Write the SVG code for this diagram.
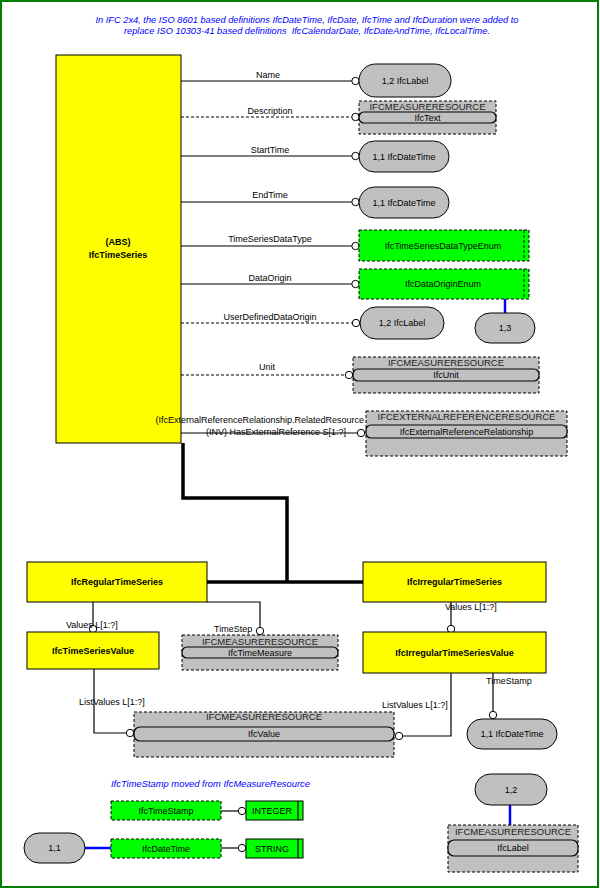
<svg xmlns="http://www.w3.org/2000/svg" width="600" height="888" viewBox="0 0 600 888">
<defs>
<style>
text{font-family:"Liberation Sans",Arial,sans-serif;font-size:9px;fill:#000}
.t{text-anchor:middle}
.b{font-weight:bold}
.hd{font-size:9.5px;text-anchor:middle;fill:#222}
.note{fill:#0000FF;font-style:italic}
.ent{fill:#FFFF00;stroke:#000;stroke-width:1}
.gry{fill:#C0C0C0;stroke:#000;stroke-width:1}
.grd{fill:#C0C0C0;stroke:#000;stroke-width:1;stroke-dasharray:3,2}
.inn{fill:#C0C0C0;stroke:#000;stroke-width:1.2}
.grn{fill:#00FF00;stroke:#000;stroke-width:1;stroke-dasharray:3,2}
.grs{fill:#00FF00;stroke:#000;stroke-width:1}
.ln{fill:none;stroke:#000;stroke-width:1.2}
.dl{fill:none;stroke:#000;stroke-width:1;stroke-dasharray:3,2}
.inh{fill:none;stroke:#000;stroke-width:3.5}
.bl{fill:none;stroke:#0000FF;stroke-width:2.5}
.c{fill:#fff;stroke:#000;stroke-width:1}
</style>
</defs>
<rect x="1" y="1" width="597" height="886" fill="#fff" stroke="#008000" stroke-width="2"/>
<g id="notes">
<text class="note t" x="307" y="23" textLength="423" lengthAdjust="spacingAndGlyphs">In IFC 2x4, the ISO 8601 based definitions IfcDateTime, IfcDate, IfcTime and IfcDuration were added to</text>
<text class="note t" x="307" y="34" textLength="366" lengthAdjust="spacingAndGlyphs" xml:space="preserve">replace ISO 10303-41 based definitions  IfcCalendarDate, IfcDateAndTime, IfcLocalTime.</text>
<text class="note" x="111" y="787" textLength="199" lengthAdjust="spacingAndGlyphs">IfcTimeStamp moved from IfcMeasureResource</text>
</g>
<g id="IfcTimeSeries">
<rect class="ent" x="56" y="55" width="125" height="388"/>
<text class="t b" x="118" y="244.5">(ABS)</text>
<text class="t b" x="118" y="257.5">IfcTimeSeries</text>
</g>
<g id="connectors">
<line class="ln" x1="181" y1="81" x2="352" y2="81"/>
<line class="dl" x1="181" y1="117" x2="352" y2="117"/>
<line class="ln" x1="181" y1="156" x2="352" y2="156"/>
<line class="ln" x1="181" y1="202" x2="352" y2="202"/>
<line class="ln" x1="181" y1="246" x2="352" y2="246"/>
<line class="ln" x1="181" y1="284" x2="352" y2="284"/>
<line class="dl" x1="181" y1="323" x2="352" y2="323"/>
<line class="dl" x1="181" y1="375" x2="345" y2="375"/>
<line class="ln" x1="181" y1="433" x2="357" y2="433"/>
<circle class="c" cx="355.5" cy="81" r="3.7"/>
<circle class="c" cx="355.5" cy="117" r="3.7"/>
<circle class="c" cx="355.5" cy="156" r="3.7"/>
<circle class="c" cx="355.5" cy="202" r="3.7"/>
<circle class="c" cx="355.5" cy="246" r="3.7"/>
<circle class="c" cx="355.5" cy="284" r="3.7"/>
<circle class="c" cx="356" cy="323" r="3.7"/>
<circle class="c" cx="349" cy="375" r="3.7"/>
<circle class="c" cx="361" cy="433" r="3.7"/>
<text class="t" x="268" y="78">Name</text>
<text class="t" x="270" y="114">Description</text>
<text class="t" x="270" y="153">StartTime</text>
<text class="t" x="270" y="198">EndTime</text>
<text class="t" x="270" y="242">TimeSeriesDataType</text>
<text class="t" x="270" y="281">DataOrigin</text>
<text class="t" x="270" y="320">UserDefinedDataOrigin</text>
<text class="t" x="267" y="370">Unit</text>
<text x="364" y="423" text-anchor="end">(IfcExternalReferenceRelationship.RelatedResource</text>
<text x="346" y="435" text-anchor="end">(INV) HasExternalReference S[1:?]</text>
<line class="bl" x1="505" y1="299" x2="505" y2="313"/>
<path class="inh" d="M183,443 V498 H287 V582"/>
<line class="inh" x1="207" y1="582" x2="363" y2="582"/>
<line class="ln" x1="93" y1="602" x2="93" y2="625.3"/>
<circle class="c" cx="93" cy="629" r="3.7"/>
<text x="66" y="628">Values L[1:?]</text>
<path class="ln" d="M207,602 H260 V627.3"/>
<circle class="c" cx="260" cy="631" r="3.7"/>
<text x="214" y="632">TimeStep</text>
<line class="ln" x1="451" y1="602" x2="451" y2="625.3"/>
<circle class="c" cx="451" cy="629" r="3.7"/>
<text x="445" y="610">Values L[1:?]</text>
<path class="ln" d="M451,673 V736 H402.7"/>
<circle class="c" cx="399" cy="736" r="3.7"/>
<text x="382" y="708">ListValues L[1:?]</text>
<line class="ln" x1="493" y1="673" x2="493" y2="711.3"/>
<circle class="c" cx="493" cy="715" r="3.7"/>
<text x="486" y="684">TimeStamp</text>
<path class="ln" d="M94,669 V733 H126.3"/>
<circle class="c" cx="130" cy="733" r="3.7"/>
<text x="79" y="705">ListValues L[1:?]</text>
<line class="ln" x1="221" y1="811" x2="238.3" y2="811"/>
<circle class="c" cx="242" cy="811" r="3.7"/>
<line class="ln" x1="221" y1="848" x2="238.3" y2="848"/>
<circle class="c" cx="242" cy="848" r="3.7"/>
<line class="bl" x1="85" y1="848" x2="111" y2="848" stroke-width="3"/>
<line class="bl" x1="510" y1="805" x2="510" y2="825"/>
</g>
<g id="Name_IfcLabel">
<rect class="gry" x="359" y="64" width="92" height="33" rx="16.5"/>
<text class="t" x="405" y="84">1,2 IfcLabel</text>
</g>
<g id="IfcText">
<rect class="grd" x="359" y="101" width="137" height="33"/>
<text class="hd" x="427.5" y="110.3">IFCMEASURERESOURCE</text>
<rect class="inn" x="359" y="112" width="137" height="11" rx="5"/>
<text class="t" x="427.5" y="121">IfcText</text>
</g>
<g id="StartTime_IfcDateTime">
<rect class="gry" x="359" y="141" width="90" height="31" rx="15.5"/>
<text class="t" x="404" y="159.5">1,1 IfcDateTime</text>
</g>
<g id="EndTime_IfcDateTime">
<rect class="gry" x="359" y="187" width="90" height="31" rx="15.5"/>
<text class="t" x="404" y="205.5">1,1 IfcDateTime</text>
</g>
<g id="IfcTimeSeriesDataTypeEnum">
<rect class="grn" x="359" y="230" width="170" height="31"/>
<line class="dl" x1="524" y1="230" x2="524" y2="261"/>
<text class="t" x="443" y="249.3">IfcTimeSeriesDataTypeEnum</text>
</g>
<g id="IfcDataOriginEnum">
<rect class="grn" x="359" y="269" width="170" height="30"/>
<line class="dl" x1="524" y1="269" x2="524" y2="299"/>
<text class="t" x="443" y="287.3">IfcDataOriginEnum</text>
</g>
<g id="Card_1_3">
<rect class="gry" x="475" y="313" width="60" height="30" rx="15"/>
<text class="t" x="505" y="331">1,3</text>
</g>
<g id="UserDefinedDataOrigin_IfcLabel">
<rect class="gry" x="360" y="307" width="84" height="32" rx="16"/>
<text class="t" x="402" y="326">1,2 IfcLabel</text>
</g>
<g id="IfcUnit">
<rect class="grd" x="353" y="357" width="186" height="36"/>
<text class="hd" x="446" y="366.3">IFCMEASURERESOURCE</text>
<rect class="inn" x="353" y="369" width="186" height="12" rx="5"/>
<text class="t" x="446" y="378.3">IfcUnit</text>
</g>
<g id="IfcExternalReferenceRelationship">
<rect class="grd" x="366" y="411" width="201" height="45"/>
<text class="hd" x="466.5" y="420.3">IFCEXTERNALREFERENCERESOURCE</text>
<rect class="inn" x="366" y="425" width="201" height="13" rx="5"/>
<text class="t" x="466.5" y="435">IfcExternalReferenceRelationship</text>
</g>
<g id="IfcRegularTimeSeries">
<rect class="ent" x="27" y="562" width="180" height="40"/>
<text class="t b" x="117" y="585.3">IfcRegularTimeSeries</text>
</g>
<g id="IfcIrregularTimeSeries">
<rect class="ent" x="363" y="562" width="183" height="40"/>
<text class="t b" x="454.5" y="585.3">IfcIrregularTimeSeries</text>
</g>
<g id="IfcTimeSeriesValue">
<rect class="ent" x="27" y="632" width="132" height="37"/>
<text class="t b" x="93" y="654.3">IfcTimeSeriesValue</text>
</g>
<g id="IfcIrregularTimeSeriesValue">
<rect class="ent" x="363" y="632" width="183" height="41"/>
<text class="t b" x="454.5" y="656">IfcIrregularTimeSeriesValue</text>
</g>
<g id="IfcTimeMeasure">
<rect class="grd" x="182" y="635" width="156" height="35"/>
<text class="hd" x="260" y="645.3">IFCMEASURERESOURCE</text>
<rect class="inn" x="182" y="647" width="156" height="11" rx="5"/>
<text class="t" x="260" y="656">IfcTimeMeasure</text>
</g>
<g id="IfcValue">
<rect class="grd" x="134" y="712" width="260" height="45"/>
<text class="hd" x="264" y="720.3">IFCMEASURERESOURCE</text>
<rect class="inn" x="134" y="727" width="260" height="14" rx="6"/>
<text class="t" x="264" y="737">IfcValue</text>
</g>
<g id="TimeStamp_IfcDateTime">
<rect class="gry" x="467" y="719" width="90" height="30" rx="15"/>
<text class="t" x="512" y="737">1,1 IfcDateTime</text>
</g>
<g id="IfcTimeStamp">
<rect class="grn" x="111" y="801" width="110" height="19"/>
<text class="t" x="166" y="814">IfcTimeStamp</text>
</g>
<g id="INTEGER">
<rect class="grs" x="246" y="801" width="57" height="19"/>
<line class="ln" x1="298" y1="801" x2="298" y2="820" stroke-width="1"/>
<text class="t" x="272" y="814">INTEGER</text>
</g>
<g id="IfcDateTime">
<rect class="grn" x="111" y="839" width="110" height="19"/>
<text class="t" x="166" y="851.5">IfcDateTime</text>
</g>
<g id="STRING">
<rect class="grs" x="246" y="839" width="57" height="19"/>
<line class="ln" x1="298" y1="839" x2="298" y2="858" stroke-width="1"/>
<text class="t" x="272" y="851.5">STRING</text>
</g>
<g id="Card_1_1">
<rect class="gry" x="24" y="833" width="61" height="30" rx="15"/>
<text class="t" x="54.5" y="851">1,1</text>
</g>
<g id="Card_1_2">
<rect class="gry" x="475" y="774" width="72" height="31" rx="15.5"/>
<text class="t" x="511" y="793">1,2</text>
</g>
<g id="IfcLabel">
<rect class="grd" x="448" y="825" width="130" height="47"/>
<text class="hd" x="513" y="835.3">IFCMEASURERESOURCE</text>
<rect class="inn" x="448" y="840" width="130" height="16" rx="6"/>
<text class="t" x="513" y="851">IfcLabel</text>
</g>
</svg>
